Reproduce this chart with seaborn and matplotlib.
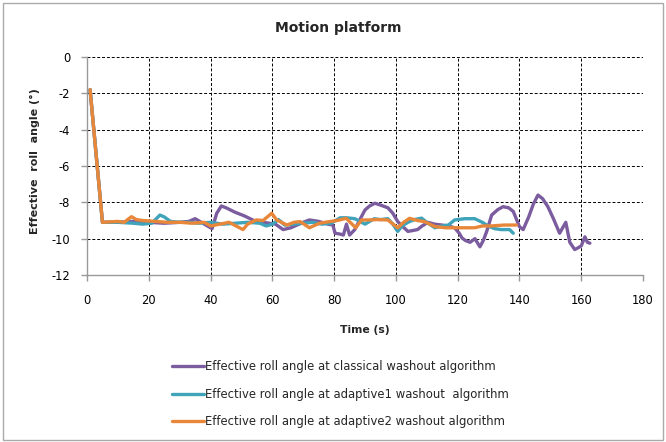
import pandas as pd
import numpy as np
import matplotlib.pyplot as plt
import seaborn as sns
from matplotlib.patches import Rectangle

sns.set_style("white")
plt.rcParams['font.family'] = ['DejaVu Sans']
plt.rcParams['axes.unicode_minus'] = False

# classical washout (purple)
t_classical = [1, 5, 10, 15, 20, 25, 30, 33, 35, 37,
               39, 40.5, 42, 43.5, 45, 48, 51, 54, 57, 59,
               61, 63.5, 66, 68, 70, 72, 75, 78, 79.6, 80.3,
               82, 83, 84, 85, 86.7, 88.5, 90, 91.5, 93.2, 95,
               97.4, 99, 100.6, 102, 103.9, 105.5, 107, 108.5, 110.4, 112.5,
               114.9, 117, 119, 120.5, 121.4, 122.5, 124, 125.6, 127.2, 128.3,
               129.4, 131, 133, 134.7, 136.5, 138, 140, 141.2, 143, 144.5,
               146, 147.5, 149.2, 151, 153, 154, 155, 156.3, 157.9, 159,
               160, 161.2, 162, 162.8]
v_classical = [-1.8, -9.1, -9.1, -9.05, -9.1, -9.15, -9.1, -9.05, -8.9, -9.1,
               -9.3, -9.45, -8.6, -8.2, -8.3, -8.55, -8.75, -9.0, -9.1, -9.15,
               -9.2, -9.5, -9.4, -9.25, -9.1, -8.97, -9.05, -9.2, -9.25, -9.7,
               -9.75, -9.8, -9.2, -9.8, -9.5, -8.9, -8.42, -8.2, -8.05, -8.15,
               -8.3, -8.6, -9.06, -9.3, -9.6, -9.55, -9.5, -9.3, -9.1, -9.2,
               -9.25, -9.3, -9.4, -9.7, -9.96, -10.1, -10.2, -10.0, -10.45, -10.1,
               -9.6, -8.7, -8.4, -8.24, -8.3, -8.5, -9.34, -9.5, -8.8, -8.1,
               -7.6, -7.8, -8.24, -8.9, -9.7, -9.4, -9.1, -10.2, -10.6, -10.5,
               -10.4, -9.9, -10.2, -10.25]

# adaptive1 washout (teal)
t_adaptive1 = [1, 5, 10, 15, 18, 21, 23.6, 25, 27, 30,
               33, 36, 40, 44, 48, 52, 56, 58, 60, 62,
               64, 67, 70, 73, 76, 79, 82, 84, 86.7, 90,
               93, 95, 97.4, 99, 100.6, 102, 103.9, 106, 108.3, 110,
               112.6, 115, 117, 119, 122.3, 125.5, 128, 129.8, 132, 134,
               136.8, 138]
v_adaptive1 = [-1.8, -9.1, -9.1, -9.15, -9.2, -9.15, -8.7, -8.8, -9.05, -9.1,
               -9.1, -9.15, -9.1, -9.2, -9.15, -9.1, -9.15, -9.3, -9.2, -8.95,
               -9.25, -9.2, -9.15, -9.1, -9.2, -9.15, -8.85, -8.85, -8.9, -9.2,
               -8.9, -8.95, -8.9, -9.2, -9.6, -9.3, -9.1, -8.95, -8.87, -9.1,
               -9.4, -9.3, -9.25, -8.97, -8.9, -8.9, -9.1, -9.3, -9.45, -9.5,
               -9.5, -9.7]

# adaptive2 washout (orange)
t_adaptive2 = [1, 5, 10, 12, 14.4, 16, 18, 22, 26, 30,
               34, 38, 40, 43, 46, 50.5, 52, 54.8, 57, 59.8,
               61.4, 64.7, 67, 69, 72, 75.3, 78.5, 81, 83.9, 87,
               88.9, 91, 94, 97.4, 100.6, 102.5, 104.4, 107, 109.2, 112.6,
               116, 119, 122, 125.5, 128, 130.9, 135, 139]
v_adaptive2 = [-1.8, -9.1, -9.05, -9.1, -8.79, -8.95, -9.0, -9.05, -9.1, -9.1,
               -9.15, -9.1, -9.3, -9.2, -9.1, -9.5, -9.2, -8.97, -9.0, -8.6,
               -8.97, -9.25, -9.1, -9.06, -9.4, -9.15, -9.06, -9.0, -8.88, -9.4,
               -8.97, -8.97, -8.95, -8.97, -9.4, -9.1, -8.88, -9.0, -9.06, -9.33,
               -9.4, -9.4, -9.4, -9.4, -9.3, -9.3, -9.25, -9.25]

labels = ['Effective roll angle at classical washout algorithm',
          'Effective roll angle at adaptive1 washout  algorithm',
          'Effective roll angle at adaptive2 washout algorithm']
colors = ['#7B5C9F', '#3FA3B9', '#E8873A']

df = pd.concat([
    pd.DataFrame({'t': t_classical, 'v': v_classical, 'series': labels[0]}),
    pd.DataFrame({'t': t_adaptive1, 'v': v_adaptive1, 'series': labels[1]}),
    pd.DataFrame({'t': t_adaptive2, 'v': v_adaptive2, 'series': labels[2]}),
], ignore_index=True)

fig = plt.figure(figsize=(6.66, 4.42), dpi=100)
ax = fig.add_axes([87/666, 1 - 275/442, 556/666, 218/442])

sns.lineplot(data=df, x='t', y='v', hue='series', palette=dict(zip(labels, colors)),
             estimator=None, sort=False, linewidth=2.4, ax=ax, legend=True)

ax.set_xlim(0, 180)
ax.set_ylim(-12, 0)
ax.set_xticks(np.arange(0, 181, 20))
ax.set_yticks(np.arange(-12, 1, 2))
ax.grid(True, color='black', linestyle=(0, (3, 2)), linewidth=0.7)
for s in ['top', 'right']:
    ax.spines[s].set_visible(False)
for s in ['left', 'bottom']:
    ax.spines[s].set_color('#999999')
    ax.spines[s].set_linewidth(1)
ax.tick_params(axis='both', direction='out', length=4, width=1, color='#999999',
               labelsize=8.3, labelcolor='black', left=True, bottom=True)
ax.tick_params(axis='x', pad=10)
ax.tick_params(axis='y', pad=8)

ax.set_xlabel('Time (s)', fontsize=7.8, fontweight='bold')
ax.xaxis.set_label_coords(0.5, -(325 - 275) / 218)
ax.set_ylabel('')
fig.text(35/666, 1 - 161/442, 'Effective  roll  angle (°)', rotation=90,
         ha='center', va='center', fontsize=8, fontweight='bold')
fig.text(338/666, 1 - 28/442, 'Motion platform', ha='center', va='center',
         fontsize=10, fontweight='bold')

handles, lbls = ax.get_legend_handles_labels()
ax.get_legend().remove()
fig.legend(handles, lbls, loc='upper left', bbox_to_anchor=(172/666, 1 - 360/442),
           frameon=False, fontsize=8.4, handlelength=2.7, handletextpad=0.17,
           labelspacing=1.25, borderpad=0, borderaxespad=0)

fig.patches.append(Rectangle((3/666, 2/442), 660/666, 437/442, transform=fig.transFigure,
                             fill=False, edgecolor='#AAAAAA', linewidth=1))

fig.savefig('out.png', dpi=100)
